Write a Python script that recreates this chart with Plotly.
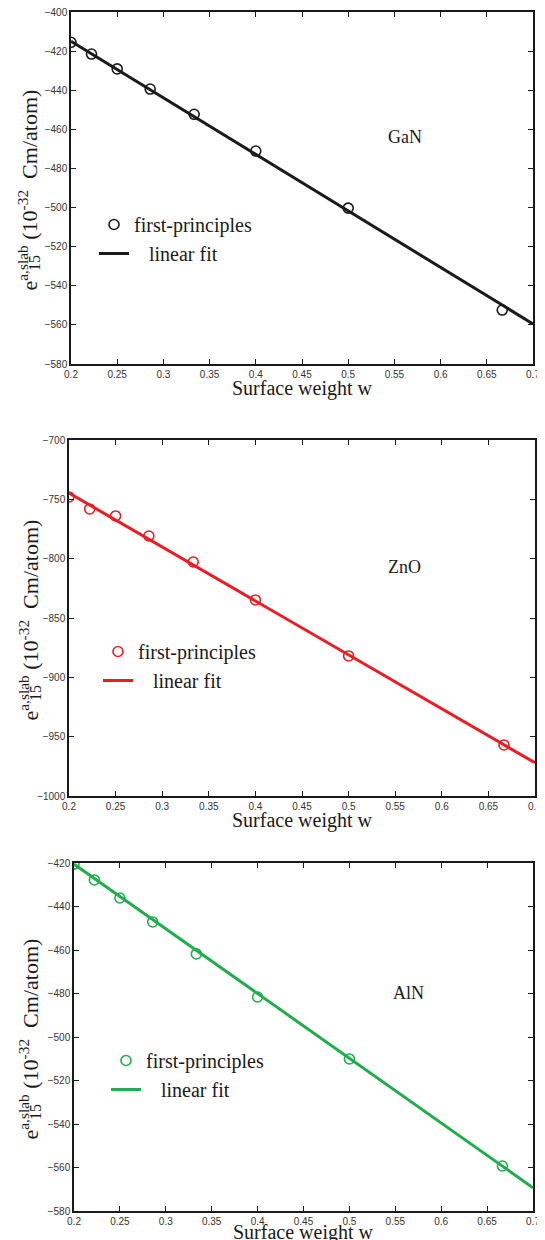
import plotly.graph_objects as go

w = [0.2, 0.2222, 0.25, 0.2857, 0.3333, 0.4, 0.5, 0.6667]
gan = [-415.5, -421.5, -429.1, -439.4, -452.3, -471.1, -500.3, -552.4]
zno = [-748.0, -758.1, -764.0, -780.9, -802.8, -834.8, -882.0, -957.0]
aln = [-420.5, -427.8, -436.1, -447.1, -461.8, -481.6, -510.1, -559.3]

fit_w = [0.2, 0.7]
gan_fit = [-415.0, -559.5]
zno_fit = [-744.7, -972.0]
aln_fit = [-420.5, -569.3]

materials = ["GaN", "ZnO", "AlN"]
colors = ["#1a1a1a", "#ec1c24", "#1fae4b"]
y_ranges = [[-580, -400], [-1000, -700], [-580, -420]]
y_dticks = [20, 50, 20]
x_ticks = [0.2, 0.25, 0.3, 0.35, 0.4, 0.45, 0.5, 0.55, 0.6, 0.65, 0.7]
x_ticktext = ["0.2", "0.25", "0.3", "0.35", "0.4", "0.45", "0.5", "0.55", "0.6", "0.65", "0.7"]
label_pos = [(0.561, -464), (0.56, -807), (0.564, -480)]
x_title = "Surface weight w"
y_title = "e<sup>a,slab</sup> (10<sup>-32</sup>  Cm/atom)"
y_title_sub = "15"

# page body has an 8px margin; figure is sized and positioned to compensate
OFF = 8
W, H = 545 - OFF, 1240 - OFF
x_px = [(71, 533), (69, 535), (74, 533)]
y_px = [(12, 364), (440, 796), (863, 1211)]
legend_pos = [(94, 205), (98, 632), (106, 1041)]
xtitle_gap = [24, 24, 21]


def px(x):
    return (x - OFF) / W


def py(y):
    return 1 - (y - OFF) / H


fig = go.Figure()
series = [gan, zno, aln]
fits = [gan_fit, zno_fit, aln_fit]
serif = "Liberation Serif, Times New Roman, serif"
sans = "Liberation Sans, Arial, sans-serif"
ink = "#1a1a1a"

for i in range(3):
    ax = "" if i == 0 else str(i + 1)
    leg = "legend" if i == 0 else f"legend{i+1}"
    fig.add_trace(go.Scatter(
        x=w, y=series[i], mode="markers", name="first-principles",
        marker=dict(symbol="circle-open", size=10, color=colors[i], line=dict(width=1.6, color=colors[i])),
        xaxis="x" + ax, yaxis="y" + ax, legend=leg, showlegend=True))
    fig.add_trace(go.Scatter(
        x=fit_w, y=fits[i], mode="lines", name="\u00a0\u00a0\u00a0linear fit",
        line=dict(color=colors[i], width=3),
        xaxis="x" + ax, yaxis="y" + ax, legend=leg, showlegend=True))

    x0, x1 = x_px[i]
    y0, y1 = y_px[i]
    common = dict(showline=True, linecolor=ink, linewidth=1.5, mirror="ticks",
                  ticks="inside", ticklen=5, tickwidth=1, tickcolor=ink,
                  showgrid=False, zeroline=False, automargin=False,
                  ticklabeloverflow="allow",
                  tickfont=dict(family=sans, size=10, color="#333"))
    fig.update_layout(**{
        "xaxis" + ax: dict(domain=[px(x0), px(x1)], range=[0.2, 0.7], tickvals=x_ticks,
                           ticktext=x_ticktext, anchor="y" + ax, **common),
        "yaxis" + ax: dict(domain=[py(y1), py(y0)], range=y_ranges[i], dtick=y_dticks[i],
                           anchor="x" + ax, **common),
        leg: dict(x=px(legend_pos[i][0]), y=py(legend_pos[i][1]),
                  xanchor="left", yanchor="top",
                  bgcolor="rgba(0,0,0,0)", font=dict(family=serif, size=20, color=ink),
                  tracegroupgap=0, itemwidth=30),
    })
    # material label
    fig.add_annotation(x=label_pos[i][0], y=label_pos[i][1], xref="x" + ax, yref="y" + ax,
                       text=materials[i], showarrow=False,
                       font=dict(family=serif, size=18, color=ink))
    # x-axis title
    fig.add_annotation(x=px((x0 + x1) / 2), y=py(y1 + xtitle_gap[i]), xref="paper", yref="paper",
                       text=x_title, showarrow=False, xanchor="center", yanchor="middle",
                       font=dict(family=serif, size=20, color=ink))
    # y-axis title (rotated), with stacked subscript
    yc = (y0 + y1) / 2
    fig.add_annotation(x=px(28), y=py(yc + 105), xref="paper", yref="paper",
                       text=y_title, showarrow=False, textangle=-90,
                       xanchor="center", yanchor="bottom",
                       font=dict(family=serif, size=22, color=ink))
    fig.add_annotation(x=px(35), y=py(yc + 75), xref="paper", yref="paper",
                       text=y_title_sub, showarrow=False, textangle=-90,
                       xanchor="center", yanchor="middle",
                       font=dict(family=serif, size=16, color=ink))

fig.update_layout(width=W, height=H, margin=dict(l=0, r=0, t=0, b=0),
                  template="none", paper_bgcolor="white", plot_bgcolor="white")
fig.write_html("out.html")
